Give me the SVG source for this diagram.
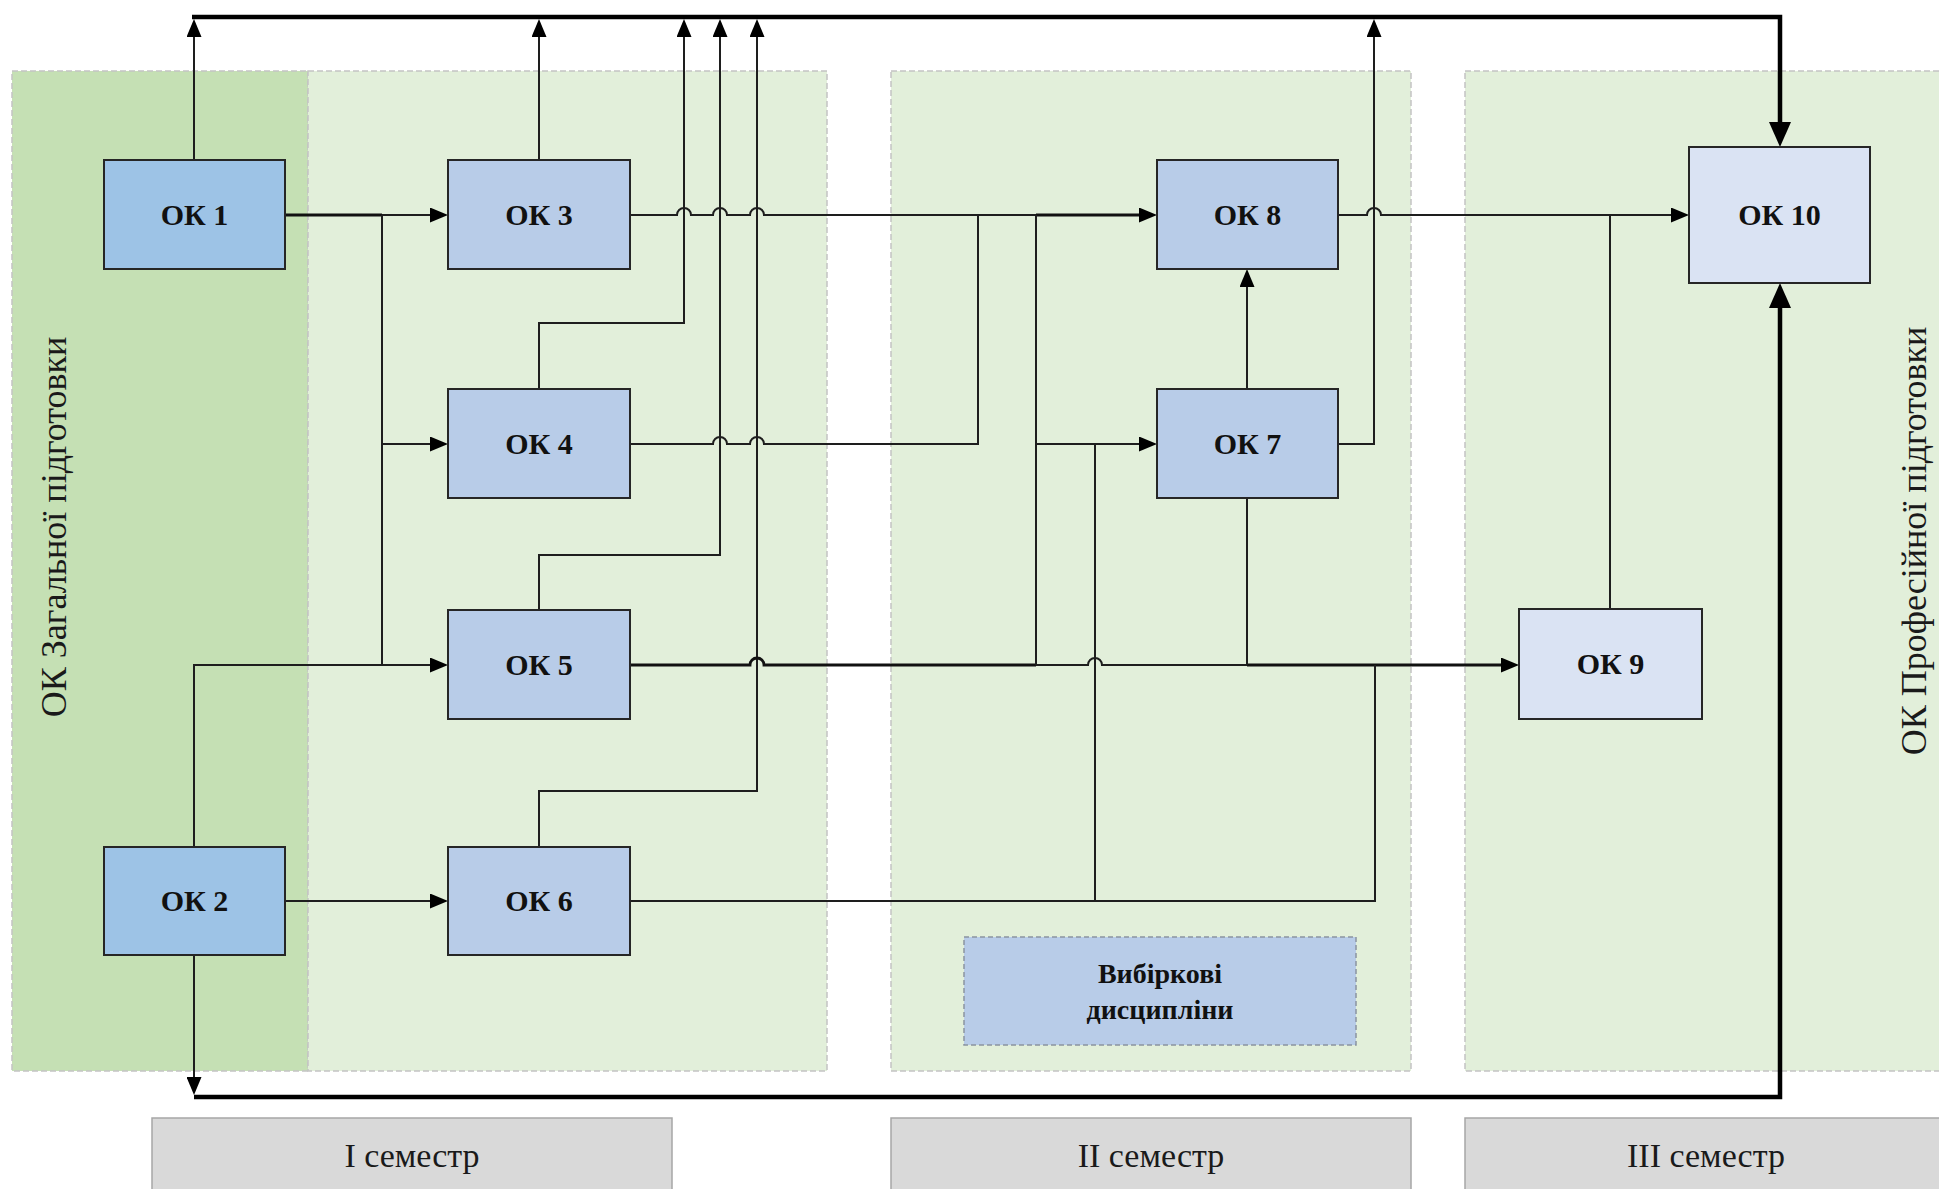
<svg xmlns="http://www.w3.org/2000/svg" width="1939" height="1189" viewBox="0 0 1939 1189">
<style>
.zone{stroke:#c4c4c4;stroke-width:1.5;stroke-dasharray:6 3}
.z0{fill:#c5e0b4}
.z1{fill:#e2efda}
.node{stroke:#262626;stroke-width:2}
.dk{fill:#9dc3e6}
.md{fill:#b8cce8}
.lt{fill:#dae3f3}
.lbl{font-family:"Liberation Serif","Times New Roman",serif;font-weight:bold;font-size:30px;fill:#111;text-anchor:middle}
.sem{fill:#d9d9d9;stroke:#a6a6a6;stroke-width:1.5}
.semt{font-family:"Liberation Serif","Times New Roman",serif;font-size:34px;fill:#1a1a1a;text-anchor:middle}
.side{font-family:"Liberation Serif","Times New Roman",serif;font-size:36px;fill:#1a1a1a;text-anchor:middle}
.c{fill:none;stroke:#1e1e1e;stroke-width:2;stroke-linejoin:miter}
.ck{fill:none;stroke:#111;stroke-width:2.8}
.bus{fill:none;stroke:#000;stroke-width:4.5;stroke-linejoin:miter}
</style>
<defs>
<marker id="arr" viewBox="0 0 18 15" refX="5" refY="7.5" markerWidth="18" markerHeight="15" orient="auto" markerUnits="userSpaceOnUse"><path d="M0,0 L18,7.5 L0,15 z" fill="#000"/></marker>
<marker id="big" viewBox="0 0 25 22" refX="5" refY="11" markerWidth="25" markerHeight="22" orient="auto" markerUnits="userSpaceOnUse"><path d="M0,0 L25,11 L0,22 z" fill="#000"/></marker>
</defs>
<rect width="1939" height="1189" fill="#fff"/>
<g id="zones">
<rect class="zone z0" x="12" y="71" width="296" height="1000"/>
<rect class="zone z1" x="308" y="71" width="519" height="1000"/>
<rect class="zone z1" x="891" y="71" width="520" height="1000"/>
<rect class="zone z1" x="1465" y="71" width="480" height="1000"/>
</g>
<g id="group-labels">
<text class="side" transform="translate(66,527) rotate(-90)">ОК  Загальної підготовки</text>
<text class="side" transform="translate(1926,541) rotate(-90)">ОК  Професійної підготовки</text>
</g>
<g id="semesters">
<g id="sem1"><rect class="sem" x="152" y="1118" width="520" height="80"/><text class="semt" x="412" y="1167">I семестр</text></g>
<g id="sem2"><rect class="sem" x="891" y="1118" width="520" height="80"/><text class="semt" x="1151" y="1167">II семестр</text></g>
<g id="sem3"><rect class="sem" x="1465" y="1118" width="490" height="80"/><text class="semt" x="1706" y="1167">III семестр</text></g>
</g>
<g id="connectors">
<path class="bus" d="M192,17 H1780 V127" marker-end="url(#big)"/>
<path class="bus" d="M194,1097 H1780 V303" marker-end="url(#big)"/>
<path class="c" d="M194,955 V1082" marker-end="url(#arr)"/>
<path class="c" d="M194,160 V32" marker-end="url(#arr)"/>
<path class="c" d="M539,160 V32" marker-end="url(#arr)"/>
<path class="c" d="M539,389 V323 H684 V32" marker-end="url(#arr)"/>
<path class="c" d="M539,610 V555 H720 V32" marker-end="url(#arr)"/>
<path class="c" d="M539,847 V791 H757 V32" marker-end="url(#arr)"/>
<path class="ck" d="M285,215 H382"/>
<path class="c" d="M382,215 H435" marker-end="url(#arr)"/>
<path class="c" d="M382,215 V665"/>
<path class="c" d="M382,444 H435" marker-end="url(#arr)"/>
<path class="c" d="M194,847 V665 H435" marker-end="url(#arr)"/>
<path class="c" d="M285,901 H435" marker-end="url(#arr)"/>
<path class="c" d="M630,215 H677 A7,7 0 0 1 691,215 H713 A7,7 0 0 1 727,215 H750 A7,7 0 0 1 764,215 H1036"/>
<path class="ck" d="M1036,215 H1144" marker-end="url(#arr)"/>
<path class="c" d="M630,444 H713 A7,7 0 0 1 727,444 H750 A7,7 0 0 1 764,444 H978 V215"/>
<path class="ck" d="M630,665 H750 A7,7 0 0 1 764,665 H1036"/>
<path class="c" d="M1036,665 V215"/>
<path class="c" d="M1036,444 H1144" marker-end="url(#arr)"/>
<path class="c" d="M1036,665 H1088 A7,7 0 0 1 1102,665 H1247"/>
<path class="ck" d="M1247,665 H1506" marker-end="url(#arr)"/>
<path class="c" d="M1247,389 V282" marker-end="url(#arr)"/>
<path class="c" d="M1247,498 V665"/>
<path class="c" d="M1338,444 H1374 V32" marker-end="url(#arr)"/>
<path class="c" d="M630,901 H1375 V665"/>
<path class="c" d="M1095,901 V444"/>
<path class="c" d="M1338,215 H1367 A7,7 0 0 1 1381,215 H1676" marker-end="url(#arr)"/>
<path class="c" d="M1610,609 V215"/>
</g>
<g id="ok1"><rect class="node dk" x="104" y="160" width="181" height="109"/><text class="lbl" x="194.5" y="225">ОК 1</text></g>
<g id="ok2"><rect class="node dk" x="104" y="847" width="181" height="108"/><text class="lbl" x="194.5" y="911">ОК 2</text></g>
<g id="ok3"><rect class="node md" x="448" y="160" width="182" height="109"/><text class="lbl" x="539" y="225">ОК 3</text></g>
<g id="ok4"><rect class="node md" x="448" y="389" width="182" height="109"/><text class="lbl" x="539" y="454">ОК 4</text></g>
<g id="ok5"><rect class="node md" x="448" y="610" width="182" height="109"/><text class="lbl" x="539" y="675">ОК 5</text></g>
<g id="ok6"><rect class="node md" x="448" y="847" width="182" height="108"/><text class="lbl" x="539" y="911">ОК 6</text></g>
<g id="ok7"><rect class="node md" x="1157" y="389" width="181" height="109"/><text class="lbl" x="1247.5" y="454">ОК 7</text></g>
<g id="ok8"><rect class="node md" x="1157" y="160" width="181" height="109"/><text class="lbl" x="1247.5" y="225">ОК 8</text></g>
<g id="ok9"><rect class="node lt" x="1519" y="609" width="183" height="110"/><text class="lbl" x="1610.5" y="674">ОК 9</text></g>
<g id="ok10"><rect class="node lt" x="1689" y="147" width="181" height="136"/><text class="lbl" x="1779.5" y="225">ОК 10</text></g>
<g id="elective"><rect x="964" y="937" width="392" height="108" fill="#b8cce8" stroke="#8a94a0" stroke-width="1.5" stroke-dasharray="5 3"/><text class="lbl" style="font-size:28px" x="1160" y="983">Вибіркові</text><text class="lbl" style="font-size:28px" x="1160" y="1019">дисципліни</text></g>
</svg>
